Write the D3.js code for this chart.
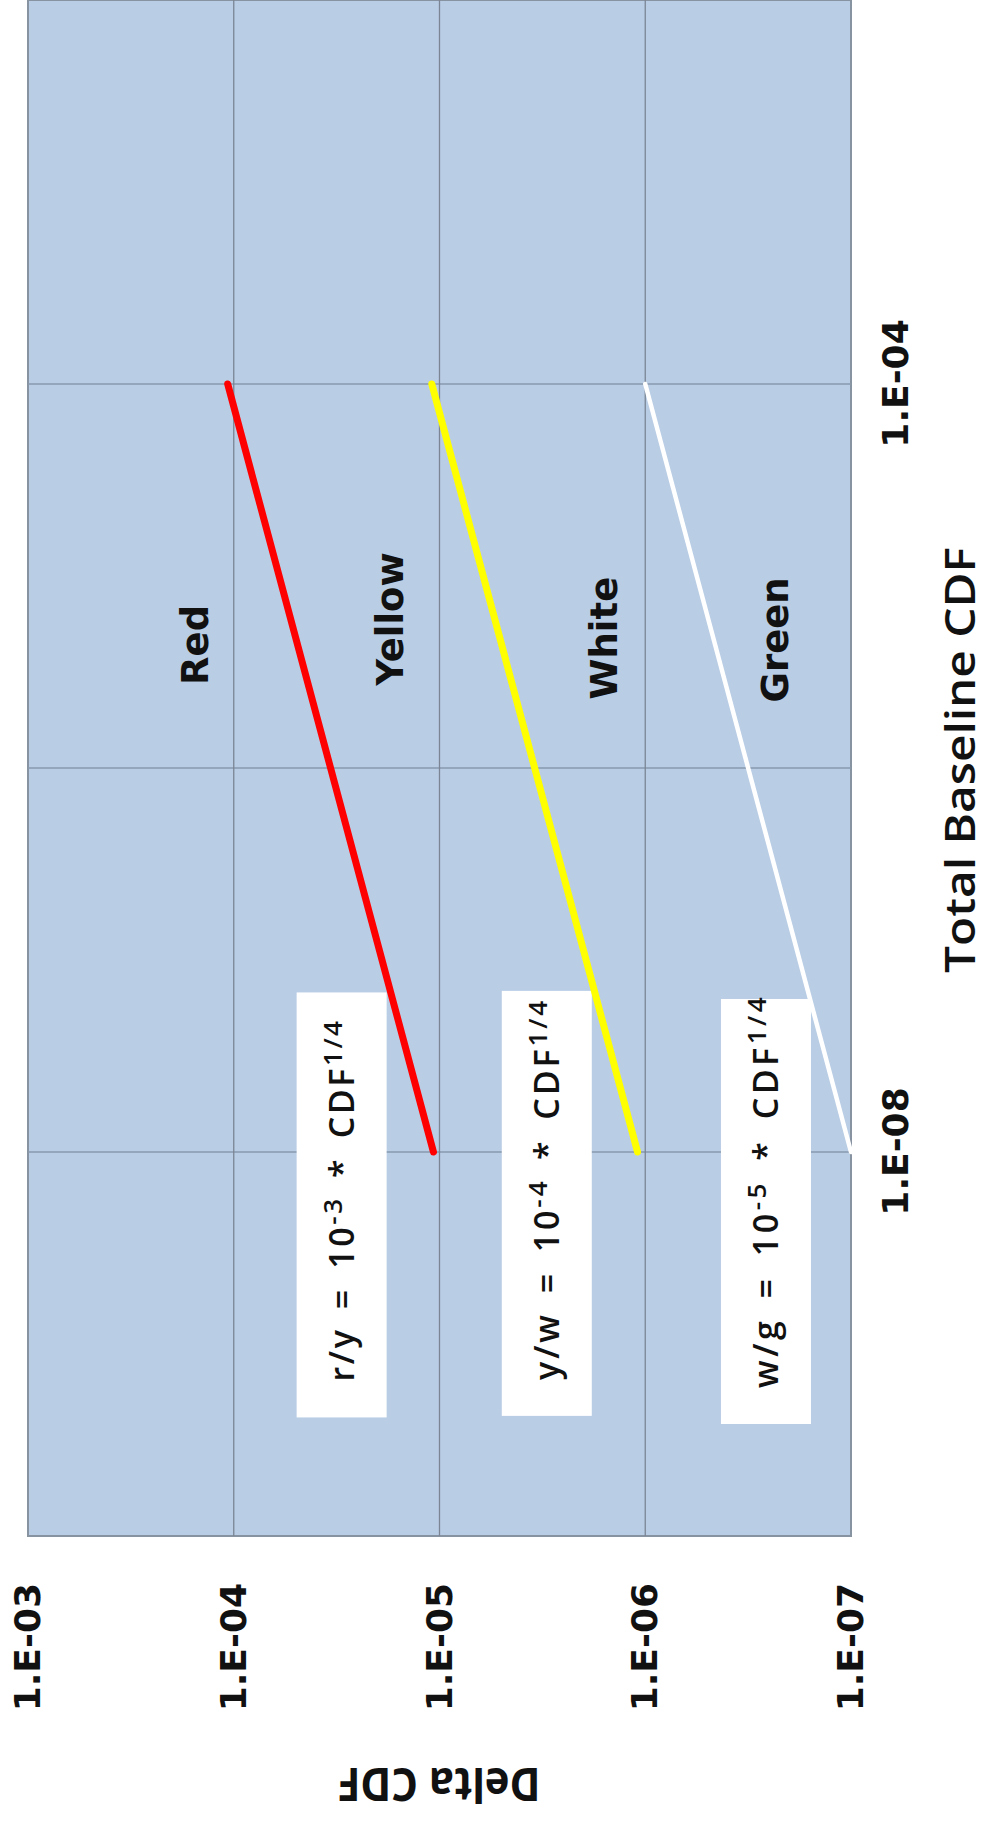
<!DOCTYPE html>
<html><head><meta charset="utf-8">
<script src="https://cdn.jsdelivr.net/npm/d3@7"></script>
<style>html,body{margin:0;padding:0;background:#fff;} svg{display:block;}</style>
</head><body>
<svg id="chart" width="987" height="1821"></svg>
<script>
// ---- data ----
const xDomain = [1e-10, 1e-2];
const yDomain = [1e-7, 1e-3];
const xTickValues = [1e-8, 1e-4];
const xTickLabels = ["1.E-08", "1.E-04"];
const xGridValues = [1e-8, 1e-6, 1e-4];
const yTickValues = [1e-3, 1e-4, 1e-5, 1e-6, 1e-7];
const yTickLabels = ["1.E-03", "1.E-04", "1.E-05", "1.E-06", "1.E-07"];
const yGridValues = [1e-4, 1e-5, 1e-6];
const redLine = [[1e-8, 1.07e-5], [1e-4, 1.07e-4]];
const yellowLine = [[1e-8, 1.09e-6], [1e-4, 1.09e-5]];
const whiteLine = [[1e-8, 1e-7], [1e-4, 1e-6]];
const zoneLabels = ["Red", "Yellow", "White", "Green"];
const zoneCDF = [4.38e-6, 5.97e-6, 4.75e-6, 4.65e-6];
const zoneDelta = [1.33e-4, 1.50e-5, 1.37e-6, 2.02e-7];
const formulaLead = ["r/y = 10", "y/w = 10", "w/g = 10"];
const formulaExp = ["-3", "-4", "-5"];
const formulaTail = " * CDF";
const formulaTailExp = "1/4";
const boxCDF = [5.3e-9, 5.4e-9, 4.9e-9];
const boxDelta = [2.99e-5, 3.01e-6, 2.59e-7];
const xTitle = "Total Baseline CDF";
const yTitle = "Delta CDF";

// ---- drawing ----
const svg = d3.select("#chart");
const W = 1821, H = 987; // unrotated chart size
const g = svg.append("g").attr("transform", `translate(0,${W}) rotate(-90)`);

const x = d3.scaleLog().domain(xDomain).range([285, 1821]);
const y = d3.scaleLog().domain(yDomain).range([851, 28]);

const plotFill = "#B9CDE5", gridColor = "#7b8594";

g.append("rect")
  .attr("x", x.range()[0]).attr("y", y.range()[1])
  .attr("width", x.range()[1] - x.range()[0])
  .attr("height", y.range()[0] - y.range()[1])
  .attr("fill", plotFill).attr("stroke", "#8893a2").attr("stroke-width", 2);

g.selectAll("line.xg").data(xGridValues).join("line")
  .attr("x1", d => x(d)).attr("x2", d => x(d))
  .attr("y1", y.range()[0]).attr("y2", y.range()[1])
  .attr("stroke", "#8898ad").attr("stroke-width", 1.6);

g.selectAll("line.yg").data(yGridValues).join("line")
  .attr("x1", x.range()[0]).attr("x2", x.range()[1])
  .attr("y1", d => y(d)).attr("y2", d => y(d))
  .attr("stroke", gridColor).attr("stroke-width", 1.3);

// formula boxes
const boxW = 425, boxH = 90;
const boxes = g.selectAll("g.box").data(formulaLead.map((d, i) => i)).join("g");
boxes.append("rect")
  .attr("x", i => x(boxCDF[i]) - boxW / 2)
  .attr("y", i => y(boxDelta[i]) - boxH / 2)
  .attr("width", boxW).attr("height", boxH)
  .attr("fill", "#ffffff");
const targetLens = [363, 382, 394];
boxes.each(function(i) {
  const t = d3.select(this).append("text")
    .attr("x", x(boxCDF[i]) - boxW / 2 + 36)
    .attr("y", y(boxDelta[i]) + 12)
    .attr("font-family", "'Open Sans', sans-serif")
    .attr("font-weight", 600)
    .attr("font-size", 34).attr("fill", "#111")
    .style("word-spacing", "7px");
  t.append("tspan").text(formulaLead[i]);
  t.append("tspan").attr("font-size", 26).attr("dy", -12).text(formulaExp[i]);
  t.append("tspan").attr("dy", 12).text(formulaTail);
  t.append("tspan").attr("font-size", 26).attr("dy", -12).text(formulaTailExp);
  const n = t.node();
  const w = n.getComputedTextLength();
  const c = n.getNumberOfChars();
  t.style("letter-spacing", Math.max(0, (targetLens[i] - w) / c) + "px");
});

// lines
const line = d3.line().x(d => x(d[0])).y(d => y(d[1]));
g.append("path").datum(redLine).attr("d", line).attr("stroke", "#FF0000").attr("stroke-width", 7).attr("fill", "none").attr("stroke-linecap", "round");
g.append("path").datum(yellowLine).attr("d", line).attr("stroke", "#FFFF00").attr("stroke-width", 7).attr("fill", "none").attr("stroke-linecap", "round");
g.append("path").datum(whiteLine).attr("d", line).attr("stroke", "#FFFFFF").attr("stroke-width", 4.5).attr("fill", "none").attr("stroke-linecap", "round");

// zone labels
g.selectAll("text.zone").data(zoneLabels).join("text")
  .attr("x", (d, i) => x(zoneCDF[i])).attr("y", (d, i) => y(zoneDelta[i]))
  .attr("text-anchor", "middle")
  .attr("font-family", "'DejaVu Sans', sans-serif").attr("font-weight", "bold")
  .attr("font-size", 37).attr("fill", "#111")
  .text(d => d);

// axes
const xAxis = d3.axisBottom(x).tickValues(xTickValues)
  .tickFormat((d, i) => xTickLabels[i]).tickSize(0).tickPadding(31);
const gx = g.append("g").attr("transform", `translate(0,${y.range()[0]})`).call(xAxis);
const yAxis = d3.axisLeft(y).tickValues(yTickValues)
  .tickFormat((d, i) => yTickLabels[i]).tickSize(0).tickPadding(47);
const gy = g.append("g").attr("transform", `translate(${x.range()[0]},0)`).call(yAxis);
[gx, gy].forEach(a => {
  a.select(".domain").remove();
  a.selectAll("text").attr("font-family", "'DejaVu Sans', sans-serif")
    .attr("font-weight", "bold").attr("font-size", 36).attr("fill", "#111");
});

// titles
g.append("text").attr("x", 1061).attr("y", 975).attr("text-anchor", "middle")
  .attr("font-family", "'Open Sans', sans-serif").attr("font-weight", 600).attr("font-size", 42).attr("fill", "#111")
  .attr("textLength", 426).attr("lengthAdjust", "spacingAndGlyphs")
  .text(xTitle);
g.append("text").attr("transform", "translate(53,439) rotate(-90)").attr("text-anchor", "middle")
  .attr("font-family", "'Open Sans', sans-serif").attr("font-weight", "bold").attr("font-size", 47).attr("fill", "#111")
  .attr("textLength", 203).attr("lengthAdjust", "spacingAndGlyphs")
  .text(yTitle);
</script>
</body></html>
